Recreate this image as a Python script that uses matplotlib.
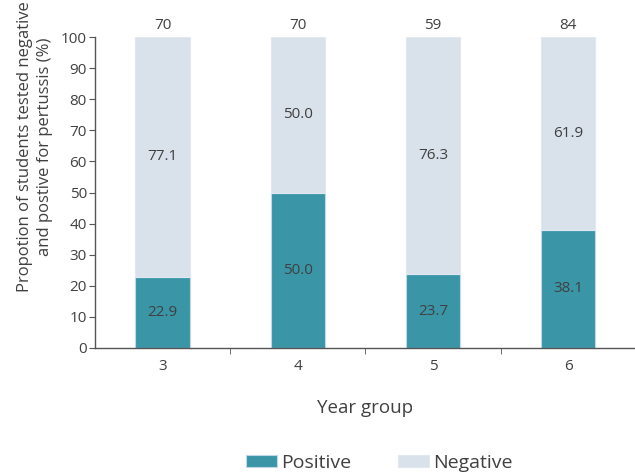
import numpy as np
import matplotlib
matplotlib.use('Agg')
import matplotlib.pyplot as plt

# Year groups, share of students per result, and number tested per group
years = ['3', '4', '5', '6']
positive = [22.9, 50.0, 23.7, 38.1]
negative = [77.1, 50.0, 76.3, 61.9]
n_tested = [70, 70, 59, 84]

plt.rcParams['font.family'] = ['Open Sans', 'DejaVu Sans']
text_col = '#404040'
pos_col = '#3a95a7'
neg_col = '#d9e1ea'

fig = plt.figure(figsize=(6.35, 4.76), dpi=100)
ax = fig.add_axes([0.150, 0.269, 0.851, 0.653])

x = np.arange(len(years))
w = 0.405
ax.bar(x, positive, w, color=pos_col, edgecolor='#c4d6ec', linewidth=0.8, label='Positive')
ax.bar(x, negative, w, bottom=positive, color=neg_col, edgecolor='#e2e8f0', linewidth=0.8,
       label='Negative')

for i in range(len(years)):
    ax.text(x[i], positive[i] / 2, f'{positive[i]:.1f}', ha='center', va='center',
            fontsize=11, color=text_col)
    ax.text(x[i], positive[i] + negative[i] / 2, f'{negative[i]:.1f}', ha='center',
            va='center', fontsize=11, color=text_col)
    ax.text(x[i], positive[i] + negative[i] + 1.2, str(n_tested[i]), ha='center',
            va='bottom', fontsize=11, color=text_col)

ax.set_xlim(-0.5, 3.5)
ax.set_ylim(0, 100)
ax.set_yticks(range(0, 101, 10))
ax.set_xticks(x)
ax.set_xticklabels(years)
ax.set_xticks([0.5, 1.5, 2.5], minor=True)
ax.tick_params(axis='x', which='major', length=0, pad=8, labelsize=11, labelcolor=text_col)
ax.tick_params(axis='x', which='minor', length=4, color='#555555', direction='out')
ax.tick_params(axis='y', length=4, color='#555555', labelsize=11, labelcolor=text_col, pad=2)

for side in ['top', 'right']:
    ax.spines[side].set_visible(False)
for side in ['left', 'bottom']:
    ax.spines[side].set_color('#555555')
    ax.spines[side].set_linewidth(1.0)

fig.text(0.055, 0.691, 'Propotion of students tested negative\nand postive for pertussis (%)',
         rotation=90, ha='center', va='center', fontsize=12, color=text_col,
         linespacing=1.3, multialignment='center')
ax.set_xlabel('Year group', fontsize=13.5, color=text_col, labelpad=18)

fig.legend(loc='center', bbox_to_anchor=(0.597, 0.028), ncol=2, frameon=False,
           fontsize=14, handlelength=1.6, handleheight=0.6, handletextpad=0.2,
           columnspacing=2.4, labelcolor=text_col)

plt.savefig('out.png', dpi=100)
